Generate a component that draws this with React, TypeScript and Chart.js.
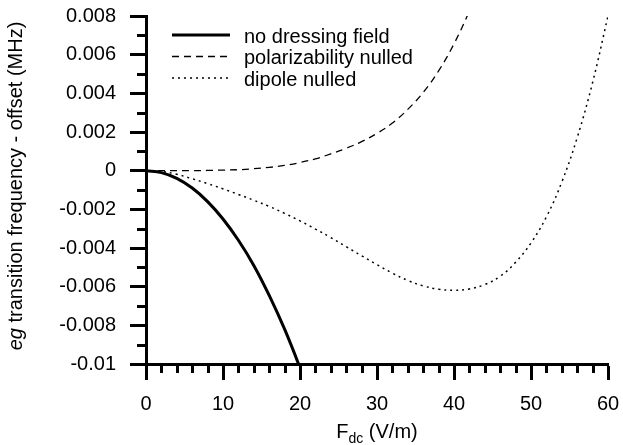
import React, { useEffect, useRef } from "react";
import { Chart, registerables } from "chart.js";

Chart.register(...registerables);

const FONT = "'Liberation Sans', Arial, Helvetica, sans-serif";

// Field values F_dc (V/m)
const fieldValues = [0, 2, 4, 6, 8, 10, 12, 14, 16, 18, 20, 22, 24, 26, 28, 30, 32, 34, 36, 38, 40, 42, 44, 46, 48, 50, 52, 54, 56, 58, 60];

// eg transition frequency - offset (MHz)
const noDressingField = [0, -0.0001, -0.0004, -0.0009, -0.0016, -0.0025, -0.0036, -0.0049, -0.00645, -0.0082, -0.0102, -0.0124];
const polarizabilityNulled = [0, 0, 0.000001, 0.000003, 0.00001, 0.00003, 0.00005, 0.0001, 0.00017, 0.00027, 0.00042, 0.00061, 0.00087, 0.00116, 0.0015, 0.00193, 0.00246, 0.00317, 0.00405, 0.00516, 0.00656, 0.00826, 0.0102];
const dipoleNulled = [0, -0.00004, -0.00019, -0.00042, -0.00067, -0.00094, -0.00123, -0.00153, -0.00185, -0.00221, -0.0026, -0.00302, -0.00346, -0.00393, -0.0044, -0.00486, -0.0053, -0.00568, -0.00596, -0.00613, -0.00619, -0.00612, -0.00589, -0.00546, -0.00474, -0.00374, -0.00239, -0.00059, 0.00171, 0.00456, 0.008];

const seriesLabels = ["no dressing field", "polarizability nulled", "dipole nulled"];

const xMajorTicks = [0, 10, 20, 30, 40, 50, 60];
const xMinorTicks = [2, 4, 6, 8, 12, 14, 16, 18, 22, 24, 26, 28, 32, 34, 36, 38, 42, 44, 46, 48, 52, 54, 56, 58];
const yMajorTicks = [-0.01, -0.008, -0.006, -0.004, -0.002, 0, 0.002, 0.004, 0.006, 0.008];
const yMinorTicks = [-0.009, -0.007, -0.005, -0.003, -0.001, 0.001, 0.003, 0.005, 0.007];

const toPoints = (ys: number[]) => ys.map((y, i) => ({ x: fieldValues[i], y }));

const decorPlugin = {
  id: "decor",
  afterDraw(chart: any) {
    const ctx = chart.ctx as CanvasRenderingContext2D;
    const xs = chart.scales.x;
    const ys = chart.scales.y;
    const area = chart.chartArea;
    ctx.save();
    ctx.strokeStyle = "#000";
    ctx.fillStyle = "#000";
    ctx.lineWidth = 3;
    ctx.lineCap = "butt";
    // minor ticks
    xMinorTicks.forEach((v) => {
      const px = Math.round(xs.getPixelForValue(v)) + 0.5;
      ctx.beginPath();
      ctx.moveTo(px, area.bottom);
      ctx.lineTo(px, area.bottom + 9);
      ctx.stroke();
    });
    yMinorTicks.forEach((v) => {
      const py = Math.round(ys.getPixelForValue(v)) + 0.5;
      ctx.beginPath();
      ctx.moveTo(area.left, py);
      ctx.lineTo(area.left - 9, py);
      ctx.stroke();
    });

    // legend
    const lx0 = area.left + 26;
    const lx1 = area.left + 84;
    const tx = area.left + 98;
    ctx.font = `20px ${FONT}`;
    ctx.textBaseline = "alphabetic";
    ctx.textAlign = "left";
    chart.data.datasets.forEach((ds: any, i: number) => {
      const y = area.top + 19 + i * 21.5;
      ctx.lineWidth = ds.borderWidth;
      ctx.setLineDash(ds.borderDash || []);
      ctx.beginPath();
      ctx.moveTo(lx0, y);
      ctx.lineTo(lx1, y);
      ctx.stroke();
      ctx.setLineDash([]);
      ctx.fillText(ds.label, tx, y + 7.5);
    });

    // y axis title
    const cy = (area.top + area.bottom) / 2 - 4;
    ctx.save();
    ctx.translate(22, cy);
    ctx.rotate(-Math.PI / 2);
    const italicPart = "eg";
    const restPart = " transition frequency - offset (MHz)";
    ctx.font = `italic 20px ${FONT}`;
    const w1 = ctx.measureText(italicPart).width;
    ctx.font = `20px ${FONT}`;
    const w2 = ctx.measureText(restPart).width;
    const sx = -(w1 + w2) / 2;
    ctx.font = `italic 20px ${FONT}`;
    ctx.fillText(italicPart, sx, 0);
    ctx.font = `20px ${FONT}`;
    ctx.fillText(restPart, sx + w1, 0);
    ctx.restore();

    // x axis title
    const mainF = "F";
    const sub = "dc";
    const rest = " (V/m)";
    ctx.font = `20px ${FONT}`;
    const fw = ctx.measureText(mainF).width;
    const rw = ctx.measureText(rest).width;
    ctx.font = `14px ${FONT}`;
    const sw = ctx.measureText(sub).width;
    const total = fw + sw + rw;
    const cx = (area.left + area.right) / 2;
    const by = 438;
    const x0 = cx - total / 2;
    ctx.font = `20px ${FONT}`;
    ctx.fillText(mainF, x0, by);
    ctx.font = `14px ${FONT}`;
    ctx.fillText(sub, x0 + fw, by + 5);
    ctx.font = `20px ${FONT}`;
    ctx.fillText(rest, x0 + fw + sw, by);
    ctx.restore();
  },
};

const fmtY = (v: number) => String(Number(Number(v).toFixed(3)));

const zeroPadding = (scale: any) => {
  scale.paddingTop = 0;
  scale.paddingBottom = 0;
  scale.paddingLeft = 0;
  scale.paddingRight = 0;
};

export default function App() {
  const canvasRef = useRef<HTMLCanvasElement | null>(null);

  useEffect(() => {
    if (!canvasRef.current) return;
    const common = { borderColor: "#000", pointRadius: 0, tension: 0.4, clip: 0, fill: false };
    const chart = new Chart(canvasRef.current, {
      type: "line",
      data: {
        datasets: [
          { ...common, label: seriesLabels[0], data: toPoints(noDressingField), borderWidth: 3 },
          { ...common, label: seriesLabels[1], data: toPoints(polarizabilityNulled), borderWidth: 1.3, borderDash: [7, 5] },
          { ...common, label: seriesLabels[2], data: toPoints(dipoleNulled), borderWidth: 1.5, borderDash: [2, 4] },
        ] as any,
      },
      options: {
        animation: false,
        responsive: false,
        layout: { padding: { top: 16, right: 15, left: 0, bottom: 0 } },
        plugins: { legend: { display: false }, tooltip: { enabled: false }, title: { display: false } },
        scales: {
          x: {
            type: "linear",
            min: 0,
            max: 60,
            afterBuildTicks: (scale: any) => {
              scale.ticks = xMajorTicks.map((v) => ({ value: v }));
            },
            afterFit: (scale: any) => {
              scale.height = 81;
              zeroPadding(scale);
            },
            border: { display: true, color: "#000", width: 3 },
            grid: { display: true, drawOnChartArea: false, drawTicks: true, tickLength: 16, tickWidth: 3, tickColor: "#000", color: "#000" },
            ticks: { color: "#000", font: { family: FONT, size: 20 }, padding: 12, maxRotation: 0, autoSkip: false, callback: (v: any) => String(v) },
          },
          y: {
            type: "linear",
            min: -0.01,
            max: 0.008,
            afterBuildTicks: (scale: any) => {
              scale.ticks = yMajorTicks.map((v) => ({ value: v }));
            },
            afterFit: (scale: any) => {
              scale.width = 146;
              zeroPadding(scale);
            },
            border: { display: true, color: "#000", width: 3 },
            grid: { display: true, drawOnChartArea: false, drawTicks: true, tickLength: 16, tickWidth: 3, tickColor: "#000", color: "#000" },
            ticks: { color: "#000", font: { family: FONT, size: 20 }, padding: 14, autoSkip: false, callback: (v: any) => fmtY(v) },
          },
        },
      } as any,
      plugins: [decorPlugin],
    });
    return () => chart.destroy();
  }, []);

  return (
    <div style={{ position: "absolute", left: 0, top: 0, width: 623, height: 445, background: "#fff" }}>
      <canvas ref={canvasRef} width={623} height={445} />
    </div>
  );
}
